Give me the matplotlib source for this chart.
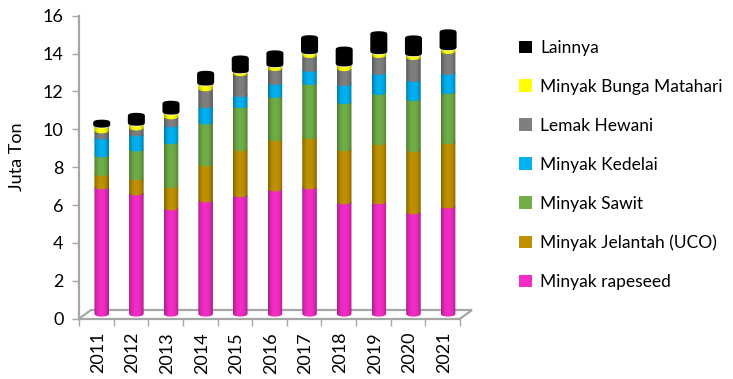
import numpy as np
import matplotlib
matplotlib.use('Agg')
import matplotlib.pyplot as plt
from matplotlib.colors import to_rgb
from matplotlib.patches import Patch, PathPatch
from matplotlib.path import Path
from matplotlib.transforms import ScaledTranslation

plt.rcParams['font.family'] = ['Lato', 'DejaVu Sans']

years = ['2011', '2012', '2013', '2014', '2015', '2016', '2017', '2018', '2019', '2020', '2021']
rapeseed = [6.72, 6.40, 5.61, 6.03, 6.30, 6.61, 6.72, 5.93, 5.93, 5.40, 5.71]
jelantah = [0.69, 0.79, 1.16, 1.90, 2.43, 2.65, 2.65, 2.80, 3.12, 3.28, 3.39]
sawit = [1.00, 1.53, 2.33, 2.22, 2.28, 2.28, 2.86, 2.49, 2.65, 2.70, 2.65]
kedelai = [0.95, 0.79, 0.90, 0.85, 0.58, 0.69, 0.69, 0.95, 1.06, 1.01, 1.01]
lemak = [0.32, 0.32, 0.42, 0.90, 1.11, 0.74, 0.74, 0.79, 0.90, 1.16, 1.11]
bunga = [0.26, 0.21, 0.21, 0.26, 0.11, 0.16, 0.16, 0.21, 0.16, 0.16, 0.16]
lainnya = [0.27, 0.53, 0.58, 0.63, 0.79, 0.74, 0.85, 0.90, 1.06, 0.95, 0.95]

series = [rapeseed, jelantah, sawit, kedelai, lemak, bunga, lainnya]
labels = ['Minyak rapeseed', 'Minyak Jelantah (UCO)', 'Minyak Sawit', 'Minyak Kedelai',
          'Lemak Hewani', 'Minyak Bunga Matahari', 'Lainnya']
colors = ['#F22CC4', '#BF9000', '#70AD47', '#00B0F0', '#7F7F7F', '#FFFF00', '#000000']

GREY = '#A6A6A6'
W, H = 733, 379
BAR_W = 0.42
DX = 0.156  # geser 3D
DY = 0.25
ELL = 0.14

fig = plt.figure(figsize=(W / 100, H / 100), dpi=100)
ax = fig.add_axes([79 / W, 1 - 318.7 / H, 381 / W, 303 / H])
ax.set_xlim(0, 11)
ax.set_ylim(0, 16)


def cylinder(xc, y0, y1, color, z):
    u = np.linspace(-1, 1, 40)
    xs = xc + u * BAR_W / 2
    arc = ELL * np.sqrt(1 - u ** 2)
    # bawahnya dilebihkan supaya tidak ada garis putih antar segmen
    low = y0 - arc - (0.06 if y0 > DY else 0)
    verts = np.concatenate([np.column_stack([xs, low]),
                            np.column_stack([xs[::-1], y1 - arc[::-1]])])
    patch = PathPatch(Path(np.vstack([verts, verts[:1]]), closed=True), fc='none', ec='none', clip_on=False)
    ax.add_patch(patch)
    shade = 1 - 0.32 * np.abs(np.linspace(-1, 1, 30)) ** 2.5
    img = np.outer(shade, to_rgb(color)).reshape(1, 30, 3)
    im = ax.imshow(img, extent=[xs[0], xs[-1], y0 - ELL - 0.06, y1], aspect='auto',
                   interpolation='bilinear', zorder=z)
    im.set_clip_path(patch)


for i in range(len(years)):
    xc = i + 0.5 + DX
    bottom = DY
    for j, (values, color) in enumerate(zip(series, colors)):
        top = bottom + values[i]
        if color == '#000000':
            # tutup hitam sedikit lebih lebar, sudutnya membulat
            u = np.linspace(-1, 1, 40)
            xs = xc + u * BAR_W / 2
            arc = ELL * np.sqrt(1 - u ** 2)
            verts = np.concatenate([np.column_stack([xs, bottom + 0.05 - arc * 0.6]),
                                    np.column_stack([xs[::-1], top - 0.1 + arc[::-1] * 0.6])])
            ax.add_patch(PathPatch(Path(np.vstack([verts, verts[:1]]), closed=True), fc='black', ec='black',
                                   lw=1.8, joinstyle='round', zorder=5, clip_on=False))
        else:
            cylinder(xc, bottom, top, color, 4 - j * 0.1)
        bottom = top

ax.set_xlim(0, 11)
ax.set_ylim(0, 16)

# lantai 3D
fx = [0, 12 / 34.64, 11 + 12 / 34.64, 11]
fy = [0, 8.7 / 18.94, 8.7 / 18.94, 0]
ax.plot(fx, fy, color=GREY, lw=1.6, clip_on=False, zorder=1, solid_joinstyle='miter')

for s in ['top', 'right']:
    ax.spines[s].set_visible(False)
for s in ['left', 'bottom']:
    ax.spines[s].set_color(GREY)
    ax.spines[s].set_linewidth(1.6)

ax.set_yticks(range(0, 17, 2))
ax.set_xticks(np.arange(len(years)) + 0.5)
ax.set_xticklabels(years, rotation=90)
ax.set_xticks(np.arange(len(years) + 1), minor=True)
ax.tick_params(axis='x', which='major', length=0, pad=9.5, labelsize=13, colors='black')
ax.tick_params(axis='x', which='minor', length=5, width=1, color=GREY)
ax.tick_params(axis='y', length=5, width=1, color=GREY, pad=6, labelsize=13)
shift = ScaledTranslation(1.5 / 100, 0, fig.dpi_scale_trans)
for lbl in ax.get_xticklabels():
    lbl.set_transform(lbl.get_transform() + shift)

fig.text(17 / W, 1 - 157 / H, 'Juta Ton', rotation=90, ha='center', va='center', fontsize=13)

handles = [Patch(fc=c, ec='none', label=l) for c, l in zip(colors, labels)]
fig.legend(handles=handles[::-1], loc='upper left', bbox_to_anchor=(515.5 / W, 1 - 36.5 / H), frameon=False,
           fontsize=12.5, handlelength=0.75, handleheight=0.75, handletextpad=0.46, labelspacing=1.32,
           borderaxespad=0, borderpad=0.2)

fig.savefig('out.png', dpi=100)
